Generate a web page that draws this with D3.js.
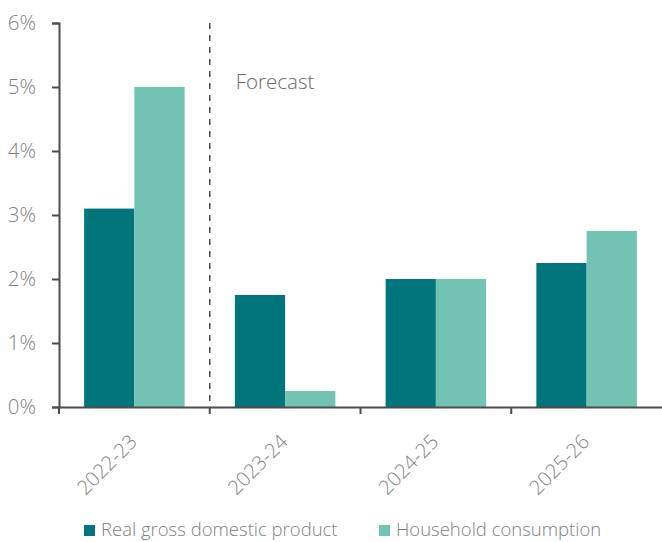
<!DOCTYPE html>
<html>
<head>
<meta charset="utf-8">
<script src="https://cdn.jsdelivr.net/npm/d3@7"></script>
<style>
  body { margin: 0; background: #fff; }
  text { font-family: "Open Sans", sans-serif; font-weight: 300; }
</style>
</head>
<body>
<svg></svg>
<script>
let categories = ['2022-23', '2023-24', '2024-25', '2025-26'];
let gdpValues = [3.1, 1.75, 2.0, 2.25];
let consumptionValues = [5.0, 0.25, 2.0, 2.75];
let seriesNames = ['Real gross domestic product', 'Household consumption'];
let yTicks = [0, 1, 2, 3, 4, 5, 6];

let width = 662;
let height = 542;
let plotLeft = 59;
let plotRight = 662;
let plotTop = 23;
let plotBottom = 407;
let colors = ['#00757b', '#72c3b4'];
let axisColor = '#4d4d4d';
let textColor = '#7f7f7f';

let svg = d3.select('svg')
            .attr('width', width)
            .attr('height', height);

let xScale = d3.scaleBand()
               .domain(categories)
               .range([plotLeft, plotRight]);

let inner = d3.scaleBand()
              .domain([0, 1])
              .range([0, xScale.bandwidth()])
              .paddingOuter(0.5);

let yScale = d3.scaleLinear()
               .domain([0, 6])
               .range([plotBottom, plotTop]);

// bars
let series = [gdpValues, consumptionValues];
series.forEach((vals, s) => {
    svg.append('g')
       .selectAll('rect')
       .data(vals)
       .enter()
       .append('rect')
       .attr('x', (d, i) => xScale(categories[i]) + inner(s))
       .attr('y', d => yScale(d))
       .attr('width', inner.bandwidth())
       .attr('height', d => yScale(0) - yScale(d))
       .attr('fill', colors[s]);
});

// forecast divider
let divX = xScale(categories[1]);
svg.append('line')
   .attr('x1', divX).attr('x2', divX)
   .attr('y1', yScale(6)).attr('y2', yScale(0))
   .attr('stroke', axisColor)
   .attr('stroke-width', 1.5)
   .attr('stroke-dasharray', '6,6');

svg.append('text')
   .attr('x', divX + 26)
   .attr('y', 89)
   .attr('font-size', 20.5)
   .attr('fill', '#6a6a6a')
   .text('Forecast');

// y axis
let yAxis = d3.axisLeft(yScale)
              .tickValues(yTicks)
              .tickSize(7)
              .tickPadding(16)
              .tickFormat(d => d + '%');

let yg = svg.append('g')
   .attr('transform', `translate(${plotLeft}, 0)`)
   .call(yAxis);
yg.select('.domain').attr('stroke', axisColor).attr('stroke-width', 2);
yg.selectAll('.tick line').attr('stroke', axisColor).attr('stroke-width', 2);
yg.selectAll('.tick text')
  .attr('font-size', 20.5)
  .attr('fill', textColor)
  .style('font-family', '"Open Sans", sans-serif')
  .style('font-weight', 300);

// x axis
let xAxis = d3.axisBottom(xScale)
              .tickSize(0)
              .tickFormat('');

let xg = svg.append('g')
   .attr('transform', `translate(0, ${plotBottom})`)
   .call(xAxis);
xg.select('.domain').attr('stroke', axisColor).attr('stroke-width', 2);
xg.selectAll('.tick').remove();

// tick marks on band edges
let edges = categories.map(c => xScale(c));
xg.selectAll('line.edge')
  .data(edges)
  .enter()
  .append('line')
  .attr('class', 'edge')
  .attr('x1', d => d).attr('x2', d => d)
  .attr('y1', 0).attr('y2', 7)
  .attr('stroke', axisColor)
  .attr('stroke-width', 2);

// rotated category labels
svg.append('g')
   .selectAll('text')
   .data(categories)
   .enter()
   .append('text')
   .attr('transform', d => `translate(${xScale(d) + xScale.bandwidth() / 2 + 4}, ${plotBottom + 36}) rotate(-45)`)
   .attr('text-anchor', 'end')
   .attr('font-size', 20)
   .attr('fill', textColor)
   .text(d => d);

// legend
let legendX = [84, 379];
let legend = svg.append('g');
seriesNames.forEach((name, i) => {
    legend.append('rect')
          .attr('x', legendX[i])
          .attr('y', 525)
          .attr('width', 11)
          .attr('height', 11)
          .attr('fill', colors[i]);
    legend.append('text')
          .attr('x', legendX[i] + 17)
          .attr('y', 536)
          .attr('font-size', 18.5)
          .attr('fill', textColor)
          .text(name);
});
</script>
</body>
</html>
